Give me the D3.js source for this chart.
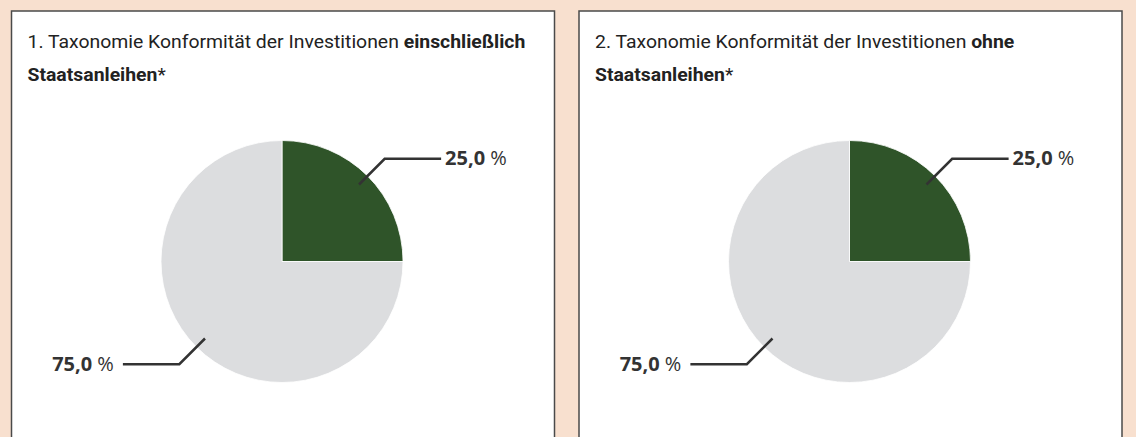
<!DOCTYPE html>
<html lang="de">
<head>
<meta charset="utf-8">
<script src="https://cdn.jsdelivr.net/npm/d3@7"></script>
<style>
    html, body { margin: 0; padding: 0; background: #f8e0cf; }
    svg { display: block; }
</style>
</head>
<body>
<div class="charts"></div>
<script>
// Daten
const titleStart = [
    "1. Taxonomie Konformität der Investitionen ",
    "2. Taxonomie Konformität der Investitionen "
];
const titleBold = ["einschließlich", "ohne"];
const titleLine2 = ["Staatsanleihen", "Staatsanleihen"];
const categories = ["Taxonomiekonform", "Nicht taxonomiekonform"];
const valuesEinschl = [25.0, 75.0];
const valuesOhne = [25.0, 75.0];

const colors = ["#2f5429", "#dcdddf"];

const width = 1136;
const height = 437;
const panelW = 543;
const panelX = [11.5, 579];
const panelY = 11;
const radius = 121;

const de = d3.formatLocale({ decimal: ",", thousands: ".", grouping: [3], currency: ["", " €"] });
const fmt = de.format(".1f");

const svg = d3.select(".charts")
    .append("svg")
    .attr("width", width)
    .attr("height", height);

const color = d3.scaleOrdinal().domain(categories).range(colors);

const pie = d3.pie().sort(null).value(d => d.value);
const arc = d3.arc().innerRadius(0).outerRadius(radius);

[valuesEinschl, valuesOhne].forEach((vals, i) => {
    const data = categories.map((c, j) => ({ cat: c, value: vals[j] }));
    const panel = svg.append("g").attr("transform", `translate(${panelX[i]},${panelY})`);

    panel.append("rect")
        .attr("width", panelW)
        .attr("height", height)
        .attr("fill", "#fff")
        .attr("stroke", "#4a4a4a")
        .attr("stroke-width", 1.5);

    // Titel
    const title = panel.append("g")
        .attr("class", "title")
        .attr("transform", "translate(16,0)")
        .style("font-family", "Roboto, 'Open Sans', sans-serif")
        .style("font-size", "18px")
        .attr("fill", "#222");

    const t1 = title.append("text").attr("y", 37.5);
    t1.append("tspan").text(titleStart[i]);
    t1.append("tspan").attr("font-weight", 700).text(titleBold[i]);

    const t2 = title.append("text").attr("y", 70);
    t2.append("tspan").attr("font-weight", 700).text(titleLine2[i]);
    t2.append("tspan").text("*");

    // Torte
    const cx = panelW / 2 - 1;
    const cy = 250.5;
    const g = panel.append("g").attr("transform", `translate(${cx},${cy})`);

    const arcs = pie(data);

    g.selectAll("path")
        .data(arcs)
        .enter()
        .append("path")
        .attr("d", arc)
        .attr("fill", d => color(d.data.cat))
        .attr("stroke", "#fff")
        .attr("stroke-width", 0.8);

    const pt = (a, r) => [Math.sin(a) * r, -Math.cos(a) * r];

    g.selectAll(".leader")
        .data(arcs)
        .enter()
        .append("polyline")
        .attr("class", "leader")
        .attr("fill", "none")
        .attr("stroke", "#333")
        .attr("stroke-width", 2.5)
        .attr("points", d => {
            const mid = (d.startAngle + d.endAngle) / 2;
            const p1 = pt(mid, radius * 0.9);
            const p2 = pt(mid, radius * 1.2);
            const side = Math.sin(mid) >= 0 ? 1 : -1;
            const p3 = [side * radius * 1.315, p2[1]];
            return [p1, p2, p3].map(p => p.join(",")).join(" ");
        });

    const lbl = g.selectAll(".lbl")
        .data(arcs)
        .enter()
        .append("text")
        .attr("class", "lbl")
        .style("font-family", "'Open Sans', sans-serif")
        .style("font-size", "20px")
        .attr("fill", "#333")
        .attr("transform", d => {
            const mid = (d.startAngle + d.endAngle) / 2;
            const p2 = pt(mid, radius * 1.2);
            const side = Math.sin(mid) >= 0 ? 1 : -1;
            const x = side > 0 ? radius * 1.315 + 4 : -radius * 1.315 - 9;
            return `translate(${x},${p2[1] + 6.5})`;
        })
        .attr("text-anchor", d => Math.sin((d.startAngle + d.endAngle) / 2) >= 0 ? "start" : "end");

    lbl.append("tspan").attr("font-weight", 700).text(d => fmt(d.data.value));
    lbl.append("tspan").text(" %");
});

// Titelbreite an Vorlage anpassen (schmale Schrift im Original)
const firstLine = svg.select(".title text").node();
const sx = 498 / firstLine.getComputedTextLength();
svg.selectAll(".title").attr("transform", `translate(16,0) scale(${sx},1)`);
</script>
</body>
</html>
